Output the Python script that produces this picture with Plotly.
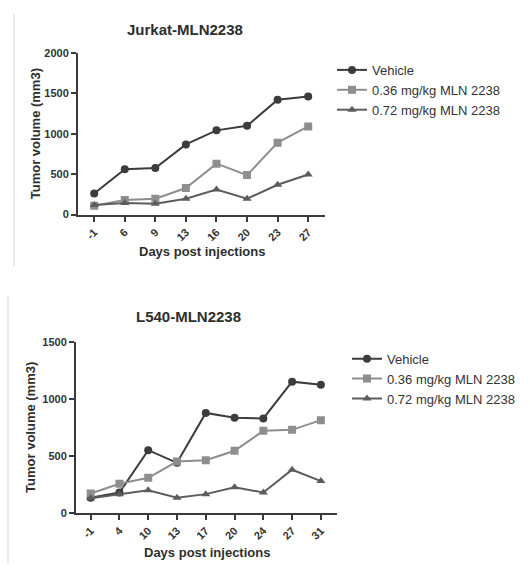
import plotly.graph_objects as go

# ---- data ----
jurkat_days = ["-1", "6", "9", "13", "16", "20", "23", "27"]
jurkat_vehicle = [260, 562, 575, 868, 1042, 1098, 1420, 1462]
jurkat_036 = [110, 180, 195, 328, 630, 488, 890, 1090]
jurkat_072 = [118, 142, 132, 195, 310, 196, 368, 495]

l540_days = ["-1", "4", "10", "13", "17", "20", "24", "27", "31"]
l540_vehicle = [134, 180, 551, 440, 877, 834, 829, 1151, 1123]
l540_036 = [171, 257, 309, 451, 463, 546, 720, 729, 814]
l540_072 = [129, 166, 200, 134, 166, 226, 180, 380, 280]

series_names = ["Vehicle", "0.36 mg/kg MLN 2238", "0.72 mg/kg MLN 2238"]
colors = ["#3c3c3c", "#8e8e8e", "#5c5c5c"]
symbols = ["circle", "square", "triangle-up"]

W, H = 530, 570
FONT = "Liberation Sans, Arial, sans-serif"

fig = go.Figure()

def add_panel(days, vals, xaxis, yaxis, legend):
    for name, v, c, s in zip(series_names, vals, colors, symbols):
        fig.add_trace(go.Scatter(
            x=days, y=v, name=name, mode="lines+markers",
            line=dict(color=c, width=2),
            marker=dict(symbol=s, size=8, color=c),
            xaxis=xaxis, yaxis=yaxis, legend=legend,
        ))

add_panel(jurkat_days, [jurkat_vehicle, jurkat_036, jurkat_072], "x", "y", "legend")
add_panel(l540_days, [l540_vehicle, l540_036, l540_072], "x2", "y2", "legend2")

def px_x(p):
    return p / W

def px_y(p):
    return 1 - p / H

axis_common = dict(
    showgrid=False, zeroline=False, showline=True, linecolor="#3a3a3a", linewidth=2,
    ticks="outside", ticklen=5, tickwidth=1.5, tickcolor="#3a3a3a",
    tickfont=dict(family=FONT, size=11, color="#333333", weight="bold"),
    fixedrange=True,
)

fig.update_layout(
    width=W, height=H,
    margin=dict(l=0, r=0, t=0, b=0),
    paper_bgcolor="white", plot_bgcolor="white",
    font=dict(family=FONT, color="#333333"),
    xaxis=dict(axis_common, domain=[px_x(78), px_x(325)], type="category",
               range=[-0.53, 7.55], tickangle=-45, anchor="y"),
    yaxis=dict(axis_common, domain=[px_y(213), px_y(48)], range=[0, 2000],
               tickvals=[0, 500, 1000, 1500, 2000], anchor="x"),
    xaxis2=dict(axis_common, domain=[px_x(76), px_x(337)], type="category",
                range=[-0.51, 8.56], tickangle=-45, anchor="y2"),
    yaxis2=dict(axis_common, domain=[px_y(518), px_y(343)], range=[0, 1500],
                tickvals=[0, 500, 1000, 1500], anchor="x2"),
    legend=dict(x=px_x(332), y=px_y(50), xanchor="left", yanchor="top",
                font=dict(family=FONT, size=13, color="#333333"),
                bgcolor="rgba(0,0,0,0)", tracegroupgap=0, itemwidth=30),
    legend2=dict(x=px_x(347), y=px_y(345), xanchor="left", yanchor="top",
                 font=dict(family=FONT, size=13, color="#333333"),
                 bgcolor="rgba(0,0,0,0)", tracegroupgap=0, itemwidth=30),
)

def ann(text, x, y, size, angle=0):
    fig.add_annotation(text=text, x=px_x(x), y=px_y(y), xref="paper", yref="paper",
                       showarrow=False, textangle=angle, xanchor="center", yanchor="middle",
                       font=dict(family=FONT, size=size, color="#2e2e2e", weight="bold"))

ann("Jurkat-MLN2238", 185, 24, 15)
ann("L540-MLN2238", 188, 317, 15)
ann("Tumor volume (mm3)", 35, 131, 13, -90)
ann("Tumor volume (mm3)", 31, 431, 13, -90)
ann("Days post injections", 202, 251, 13)
ann("Days post injections", 207, 558, 13)

# faint frame lines from the source image
fig.add_shape(type="line", xref="paper", yref="paper", x0=px_x(14), x1=px_x(14),
              y0=px_y(8), y1=px_y(266), line=dict(color="#e6e6e6", width=1.5))
fig.add_shape(type="line", xref="paper", yref="paper", x0=px_x(8), x1=px_x(8),
              y0=px_y(296), y1=px_y(570), line=dict(color="#e6e6e6", width=1.5))

fig.write_html("out.html")
